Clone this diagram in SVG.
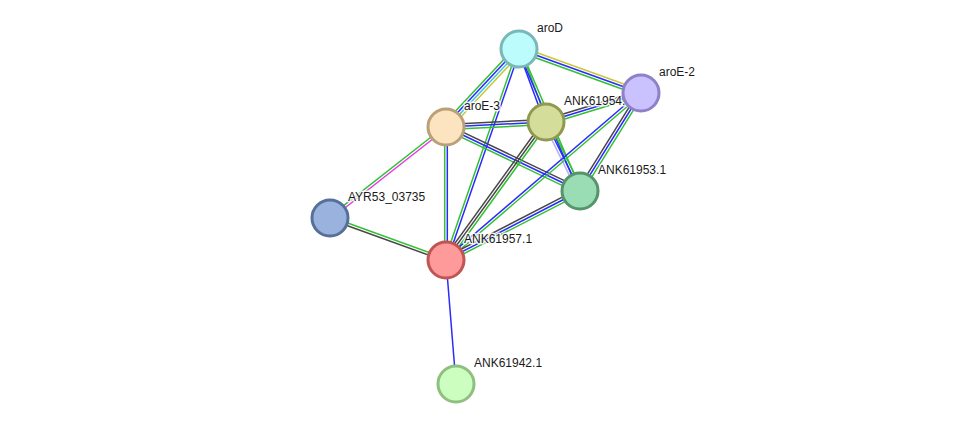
<svg xmlns="http://www.w3.org/2000/svg" width="975" height="430" viewBox="0 0 975 430">
<style>
line{stroke-width:1.5;fill:none}
.g{stroke:#33c033}.b{stroke:#2a2aff}.k{stroke:#474747}.y{stroke:#c8c83c}.c{stroke:#44c0e8}.m{stroke:#e23be2}.h{stroke:#b4b4f4}
circle{stroke-width:3}
text{font-family:"Liberation Sans",Arial,sans-serif;font-size:12px;fill:#1a1a1a;stroke:#ffffff;stroke-width:3;stroke-opacity:0.85;paint-order:stroke;stroke-linejoin:round}
</style>
<rect width="975" height="430" fill="#ffffff"/>
<g id="edges">
<g transform="translate(519,49) rotate(133.1)"><line x1="0" x2="106.8" y1="-3.9" y2="-3.9" class="y"/><line x1="0" x2="106.8" y1="-1.3" y2="-1.3" class="c"/><line x1="0" x2="106.8" y1="1.3" y2="1.3" class="b"/><line x1="0" x2="106.8" y1="3.9" y2="3.9" class="g"/></g>
<g transform="translate(519,49) rotate(19.83)"><line x1="0" x2="129.7" y1="-2.6" y2="-2.6" class="y"/><line x1="0" x2="129.7" y1="0" y2="0" class="b"/><line x1="0" x2="129.7" y1="2.6" y2="2.6" class="g"/></g>
<g transform="translate(519,49) rotate(69.7)"><line x1="0" x2="77.8" y1="-1.3" y2="-1.3" class="g"/><line x1="0" x2="77.8" y1="1.3" y2="1.3" class="b"/></g>
<g transform="translate(519,49) rotate(66.75)"><line x1="0" x2="154.5" y1="-1.3" y2="-1.3" class="g"/><line x1="0" x2="154.5" y1="1.3" y2="1.3" class="b"/></g>
<g transform="translate(519,49) rotate(109.08)"><line x1="0" x2="223.3" y1="-1.3" y2="-1.3" class="b"/><line x1="0" x2="223.3" y1="1.3" y2="1.3" class="g"/></g>
<g transform="translate(446,127) rotate(-2.86)"><line x1="0" x2="100.1" y1="-2.6" y2="-2.6" class="k"/><line x1="0" x2="100.1" y1="0" y2="0" class="b"/><line x1="0" x2="100.1" y1="2.6" y2="2.6" class="g"/></g>
<g transform="translate(446,127) rotate(25.53)"><line x1="0" x2="148.5" y1="-2.6" y2="-2.6" class="k"/><line x1="0" x2="148.5" y1="0" y2="0" class="b"/><line x1="0" x2="148.5" y1="2.6" y2="2.6" class="g"/></g>
<g transform="translate(446,127) rotate(141.89)"><line x1="0" x2="147.4" y1="-1.3" y2="-1.3" class="m"/><line x1="0" x2="147.4" y1="1.3" y2="1.3" class="g"/></g>
<g transform="translate(446,127) rotate(90)"><line x1="0" x2="133" y1="-1.3" y2="-1.3" class="b"/><line x1="0" x2="133" y1="1.3" y2="1.3" class="g"/></g>
<g transform="translate(330,218) rotate(19.9)"><line x1="0" x2="123.4" y1="-1.3" y2="-1.3" class="g"/><line x1="0" x2="123.4" y1="1.3" y2="1.3" class="k"/></g>
<g transform="translate(546,122) rotate(-16.98)"><line x1="0" x2="99.3" y1="-2.6" y2="-2.6" class="k"/><line x1="0" x2="99.3" y1="0" y2="0" class="b"/><line x1="0" x2="99.3" y1="2.6" y2="2.6" class="g"/></g>
<g transform="translate(546,122) rotate(63.77)"><line x1="0" x2="76.9" y1="-2.6" y2="-2.6" class="g"/><line x1="0" x2="76.9" y1="0" y2="0" class="b"/><line x1="0" x2="76.9" y1="2.6" y2="2.6" class="h"/></g>
<g transform="translate(546,122) rotate(125.93)"><line x1="0" x2="170.4" y1="-2.6" y2="-2.6" class="g"/><line x1="0" x2="170.4" y1="0" y2="0" class="k"/><line x1="0" x2="170.4" y1="2.6" y2="2.6" class="k"/></g>
<g transform="translate(641,93) rotate(121.9)"><line x1="0" x2="115.4" y1="-2.6" y2="-2.6" class="g"/><line x1="0" x2="115.4" y1="0" y2="0" class="b"/><line x1="0" x2="115.4" y1="2.6" y2="2.6" class="k"/></g>
<g transform="translate(641,93) rotate(139.42)"><line x1="0" x2="256.7" y1="-1.3" y2="-1.3" class="g"/><line x1="0" x2="256.7" y1="1.3" y2="1.3" class="b"/></g>
<g transform="translate(580,191) rotate(152.76)"><line x1="0" x2="150.7" y1="-2.6" y2="-2.6" class="g"/><line x1="0" x2="150.7" y1="0" y2="0" class="b"/><line x1="0" x2="150.7" y1="2.6" y2="2.6" class="k"/></g>
<g transform="translate(446,260) rotate(85.39)"><line x1="0" x2="124.4" y1="0" y2="0" class="b"/></g>
</g>
<g id="aroE-3"><circle cx="446" cy="127" r="18" fill="#fde4c0" stroke="#b9a077"/><text x="464" y="110">aroE-3</text></g>
<g id="AYR53_03735"><circle cx="330" cy="218" r="18" fill="#9ab3de" stroke="#56709a"/><text x="348" y="201">AYR53_03735</text></g>
<g id="ANK61957.1"><circle cx="446" cy="260" r="18" fill="#ff9a9a" stroke="#c05555"/><text x="464" y="243">ANK61957.1</text></g>
<g id="ANK61942.1"><circle cx="456" cy="384" r="18" fill="#ccfec0" stroke="#8ec080"/><text x="474" y="367">ANK61942.1</text></g>
<g id="ANK61953.1"><circle cx="580" cy="191" r="18" fill="#9adcb4" stroke="#55956b"/><text x="598" y="174">ANK61953.1</text></g>
<g id="ANK61954.1"><circle cx="546" cy="122" r="18" fill="#d4de9a" stroke="#8f9a50"/><text x="564" y="105">ANK61954.1</text></g>
<g id="aroD"><circle cx="519" cy="49" r="18" fill="#bcfcfc" stroke="#7ab8b8"/><text x="537" y="32">aroD</text></g>
<g id="aroE-2"><circle cx="641" cy="93" r="18" fill="#cac2fe" stroke="#8f80c8"/><text x="659" y="76">aroE-2</text></g>
</svg>
